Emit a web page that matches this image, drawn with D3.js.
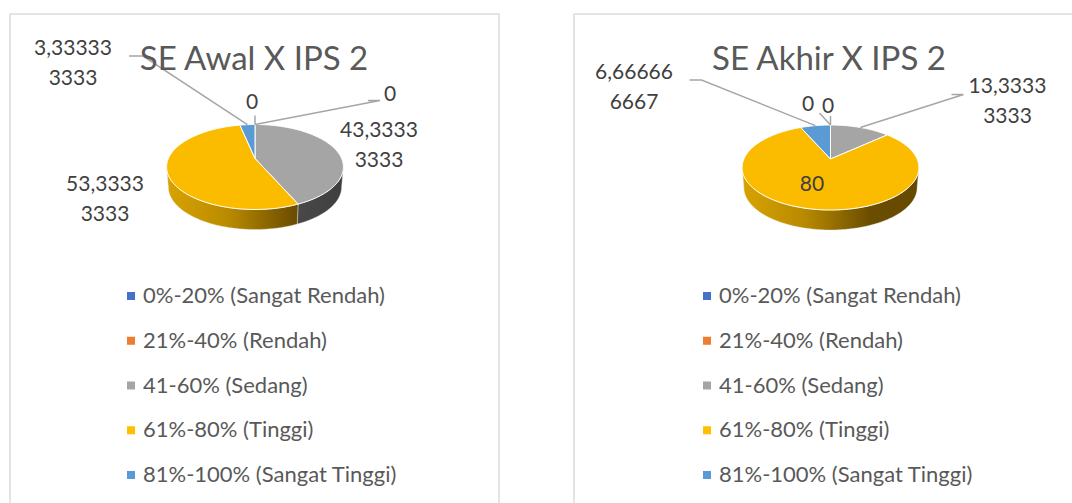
<!DOCTYPE html>
<html>
<head>
<meta charset="utf-8">
<script src="https://cdn.jsdelivr.net/npm/d3@7"></script>
<style>
  html, body { margin: 0; padding: 0; background: #fff; overflow: hidden; }
  svg { display: block; font-family: Lato, sans-serif; }
</style>
</head>
<body>
<div id="chart"></div>
<script>
// data
const categories = ["0%-20% (Sangat Rendah)", "21%-40% (Rendah)", "41-60% (Sedang)", "61%-80% (Tinggi)", "81%-100% (Sangat Tinggi)"];
const colors = ["#4472c4", "#ed7d31", "#a5a5a5", "#fbbc00", "#5b9bd5"];
const titleAwal = "SE Awal X IPS 2";
const titleAkhir = "SE Akhir X IPS 2";
const valuesAwal = [0, 0, 43.3333333333, 53.3333333333, 3.3333333333];
const valuesAkhir = [0, 0, 13.3333333333, 80, 6.6666666667];
const labelsAwal = [["0"], ["0"], ["43,3333", "3333"], ["53,3333", "3333"], ["3,33333", "3333"]];
const labelsAkhir = [["0"], ["0"], ["13,3333", "3333"], ["80"], ["6,66666", "6667"]];

// layout of the two panels, label spots are relative to the pie centre
const awal = {
    title: titleAwal, values: valuesAwal, labels: labelsAwal,
    panel: [10, 14, 489, 520], cx: 255, cy: 158.5, titleX: 254, legendX: 127,
    spots: [[135, -57.5], [-3, -49.5], [124, -21.5], [-150, 32.5], [-182, -103.5]],
    elbows: [[[113, -58], [125, -58]], [], null, null, [[-126, -102.5], [-112, -102.5]]]
};
const akhir = {
    title: titleAkhir, values: valuesAkhir, labels: labelsAkhir,
    panel: [574, 14, 520, 520], cx: 830.5, cy: 159, titleX: 829, legendX: 703,
    spots: [[-22.5, -48], [-2.5, -46], [177, -66], [-18.5, 32], [-196.5, -80]],
    elbows: [[], [[-11, -46]], [[121, -64.5], [133, -64.5]], null, [[-141, -79], [-129, -79]]]
};

const width = 1072, height = 503;
const depth = 20, tilt = 0.2;
const lineGap = 29.5;

const svg = d3.select("#chart").append("svg")
    .attr("width", width)
    .attr("height", height);

const defs = svg.append("defs");

// the pie is seen in perspective, far side smaller than near side
const scaleX = d3.scaleLinear().domain([-1, 1]).range([-86.6, 86.6]);
const scaleY = d3.scaleLinear().domain([-1, 1]).range([40.8, -40.8]);

function project(a) {
    const k = 1 + tilt * Math.cos(a);
    return [scaleX(Math.sin(a) / k), scaleY(Math.cos(a) / k)];
}

function arcPoints(a0, a1) {
    const n = Math.max(2, Math.ceil((a1 - a0) / 0.02));
    return d3.range(n + 1).map(i => project(a0 + (a1 - a0) * i / n));
}

const line = d3.line().curve(d3.curveLinear);
const pie = d3.pie().sort(null);

// rim only shows on the near half
const nearStart = Math.acos(-tilt);
const nearEnd = 2 * Math.PI - nearStart;

function addGradient(id, x0, x1, stops) {
    const g = defs.append("linearGradient")
        .attr("id", id)
        .attr("gradientUnits", "userSpaceOnUse")
        .attr("x1", x0).attr("x2", x1)
        .attr("y1", 0).attr("y2", 0);
    stops.forEach(s => g.append("stop").attr("offset", s[0]).attr("stop-color", s[1]));
    return "url(#" + id + ")";
}

function drawChart(c, key) {
    const arcs = pie(c.values);
    const [px, py, pw, ph] = c.panel;

    svg.append("rect")
        .attr("x", px).attr("y", py)
        .attr("width", pw).attr("height", ph)
        .attr("fill", "#fff")
        .attr("stroke", "#dcdcdc")
        .attr("stroke-width", 1.5);

    const g = svg.append("g")
        .attr("transform", "translate(" + c.cx + "," + c.cy + ")");

    const wallGold = addGradient("gold" + key, -88, 88, [[0, "#d8a300"], [0.35, "#b98a00"], [0.72, "#6c4e00"], [1, "#654800"]]);
    const wallGrey = addGradient("grey" + key, -88, 88, [[0, "#8a8a8a"], [0.7, "#4a4a4a"], [1, "#3f3f3f"]]);
    const wallBlue = addGradient("blue" + key, -88, 88, [[0, "#4a86bd"], [1, "#274b6b"]]);
    const walls = [wallBlue, wallBlue, wallGrey, wallGold, wallBlue];

    // side walls
    arcs.forEach((d, i) => {
        const a0 = Math.max(d.startAngle, nearStart);
        const a1 = Math.min(d.endAngle, nearEnd);
        if (a1 <= a0) return;
        const top = arcPoints(a0, a1);
        const bottom = top.map(p => [p[0] * 0.98, p[1] + depth]).reverse();
        g.append("path")
            .attr("d", line(top.concat(bottom)) + "Z")
            .attr("fill", walls[i])
            .attr("stroke", "#e8e8e8")
            .attr("stroke-width", 0.4);
    });

    // top face
    arcs.forEach((d, i) => {
        if (d.value === 0) return;
        g.append("path")
            .attr("d", line([[0, 0]].concat(arcPoints(d.startAngle, d.endAngle))) + "Z")
            .attr("fill", colors[i])
            .attr("stroke", "#fff")
            .attr("stroke-width", 1)
            .attr("stroke-linejoin", "round");
    });

    // leader lines run from the middle of the slice to the label
    arcs.forEach((d, i) => {
        const elbows = c.elbows[i];
        if (!elbows) return;
        const anchor = project((d.startAngle + d.endAngle) / 2);
        const pts = elbows.length ? elbows.concat([anchor]) : [[anchor[0], anchor[1] - 9], anchor];
        g.append("path")
            .attr("d", line(pts))
            .attr("fill", "none")
            .attr("stroke", "#a6a6a6")
            .attr("stroke-width", 1.5);
    });

    // title
    svg.append("text")
        .attr("x", c.titleX).attr("y", 70)
        .attr("text-anchor", "middle")
        .attr("font-size", 33)
        .attr("fill", "#595959")
        .text(c.title);

    // data labels
    c.labels.forEach((lines, i) => {
        lines.forEach((t, j) => {
            g.append("text")
                .attr("x", c.spots[i][0])
                .attr("y", c.spots[i][1] + j * lineGap)
                .attr("text-anchor", "middle")
                .attr("font-size", 21)
                .attr("fill", "#404040")
                .text(t);
        });
    });

    // legend
    const legendY = d3.scalePoint().domain(categories).range([296, 475]);
    const row = svg.append("g").selectAll("g")
        .data(categories)
        .join("g")
        .attr("transform", d => "translate(" + c.legendX + "," + legendY(d) + ")");
    row.append("rect")
        .attr("x", 0).attr("y", -4)
        .attr("width", 8).attr("height", 8)
        .attr("fill", (d, i) => colors[i] === "#fbbc00" ? "#ffc000" : colors[i]);
    row.append("text")
        .attr("x", 16).attr("y", 7)
        .attr("font-size", 22)
        .attr("fill", "#595959")
        .text(d => d);
}

drawChart(awal, "A");
drawChart(akhir, "B");
</script>
</body>
</html>
